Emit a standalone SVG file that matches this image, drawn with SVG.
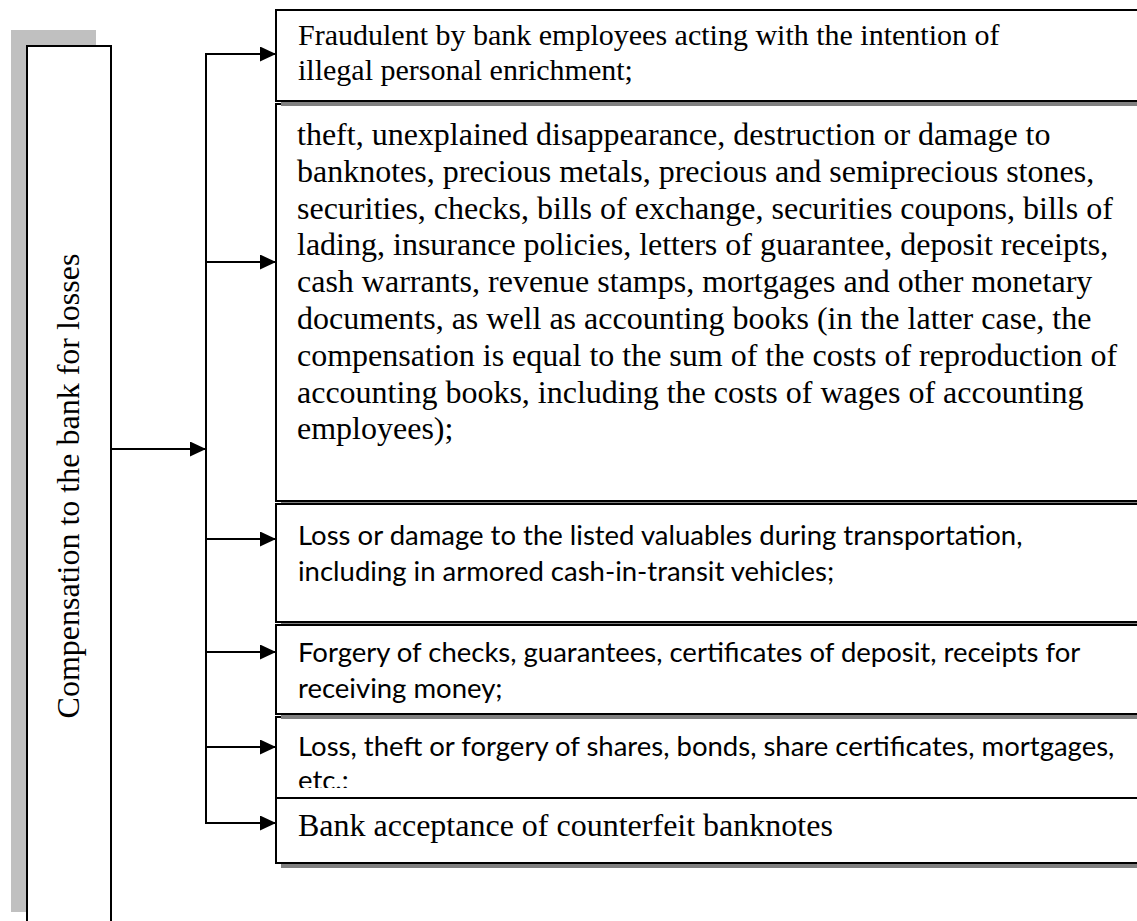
<svg xmlns="http://www.w3.org/2000/svg" width="1137" height="921" viewBox="0 0 1137 921">
<style>
.shadow{fill:#808080}
.box{fill:#fff;stroke:#000;stroke-width:2}
.serif{font-family:"Liberation Serif","Times New Roman",serif;fill:#000}
.sans{font-family:Lato,"Liberation Sans",sans-serif;fill:#000}
.conn{stroke:#000;stroke-width:2;fill:none}
</style>
<defs>
<marker id="arr" markerUnits="userSpaceOnUse" markerWidth="16" markerHeight="15" refX="16" refY="7.5" orient="auto">
<path d="M0,0 L16,7.5 L0,15 z" fill="#000"/>
</marker>
<clipPath id="clip5"><rect x="276" y="717" width="900" height="71"/></clipPath>
</defs>
<rect width="1137" height="921" fill="#fff"/>

<g id="main">
<rect x="11" y="30" width="85" height="882" fill="#c0c0c0"/>
<rect class="box" x="27" y="46" width="84" height="900"/>
<text class="serif" font-size="32" transform="translate(79,486) rotate(-90)" text-anchor="middle">Compensation to the bank for losses</text>
</g>

<g id="box2">
<rect class="shadow" x="281" y="109" width="900" height="397"/>
<rect class="box" x="276" y="104" width="900" height="397"/>
<text class="serif" font-size="32" x="297">
<tspan x="297" y="145">theft, unexplained disappearance, destruction or damage to</tspan>
<tspan x="297" y="181.8">banknotes, precious metals, precious and semiprecious stones,</tspan>
<tspan x="297" y="218.6">securities, checks, bills of exchange, securities coupons, bills of</tspan>
<tspan x="297" y="255.4">lading, insurance policies, letters of guarantee, deposit receipts,</tspan>
<tspan x="297" y="292.2">cash warrants, revenue stamps, mortgages and other monetary</tspan>
<tspan x="297" y="329">documents, as well as accounting books (in the latter case, the</tspan>
<tspan x="297" y="365.8">compensation is equal to the sum of the costs of reproduction of</tspan>
<tspan x="297" y="402.6">accounting books, including the costs of wages of accounting</tspan>
<tspan x="297" y="439.4">employees);</tspan>
</text>
</g>

<g id="box3">
<rect class="shadow" x="281" y="509" width="900" height="118"/>
<rect class="box" x="276" y="504" width="900" height="118"/>
<text class="sans" font-size="27.5">
<tspan x="298" y="545">Loss or damage to the listed valuables during transportation,</tspan>
<tspan x="298" y="581">including in armored cash-in-transit vehicles;</tspan>
</text>
</g>

<g id="box5">
<rect class="shadow" x="281" y="722" width="900" height="81"/>
<rect class="box" x="276" y="717" width="900" height="81"/>
<text class="sans" font-size="27.5" clip-path="url(#clip5)">
<tspan x="298" y="756">Loss, theft or forgery of shares, bonds, share certificates, mortgages,</tspan>
<tspan x="298" y="790">etc.:</tspan>
</text>
</g>

<g id="box4">
<rect class="shadow" x="281" y="630" width="900" height="89"/>
<rect class="box" x="276" y="625" width="900" height="89"/>
<text class="sans" font-size="27.5">
<tspan x="298" y="662">Forgery of checks, guarantees, certificates of deposit, receipts for</tspan>
<tspan x="298" y="698">receiving money;</tspan>
</text>
</g>

<g id="box6">
<rect class="shadow" x="281" y="803" width="900" height="65"/>
<rect class="box" x="276" y="798" width="900" height="65"/>
<text class="serif" font-size="32" x="298" y="836">Bank acceptance of counterfeit banknotes</text>
</g>

<g id="box1">
<rect class="shadow" x="281" y="15" width="900" height="91"/>
<rect class="box" x="276" y="10" width="900" height="91"/>
<text class="serif" font-size="30">
<tspan x="298" y="45">Fraudulent by bank employees acting with the intention of</tspan>
<tspan x="298" y="80">illegal personal enrichment;</tspan>
</text>
</g>

<g id="connectors">
<line class="conn" x1="111" y1="449" x2="206" y2="449" marker-end="url(#arr)"/>
<line class="conn" x1="206" y1="53" x2="206" y2="824"/>
<line class="conn" x1="205" y1="54" x2="276" y2="54" marker-end="url(#arr)"/>
<line class="conn" x1="205" y1="262" x2="276" y2="262" marker-end="url(#arr)"/>
<line class="conn" x1="205" y1="539" x2="276" y2="539" marker-end="url(#arr)"/>
<line class="conn" x1="205" y1="652" x2="276" y2="652" marker-end="url(#arr)"/>
<line class="conn" x1="205" y1="747" x2="276" y2="747" marker-end="url(#arr)"/>
<line class="conn" x1="205" y1="823" x2="276" y2="823" marker-end="url(#arr)"/>
</g>
</svg>
